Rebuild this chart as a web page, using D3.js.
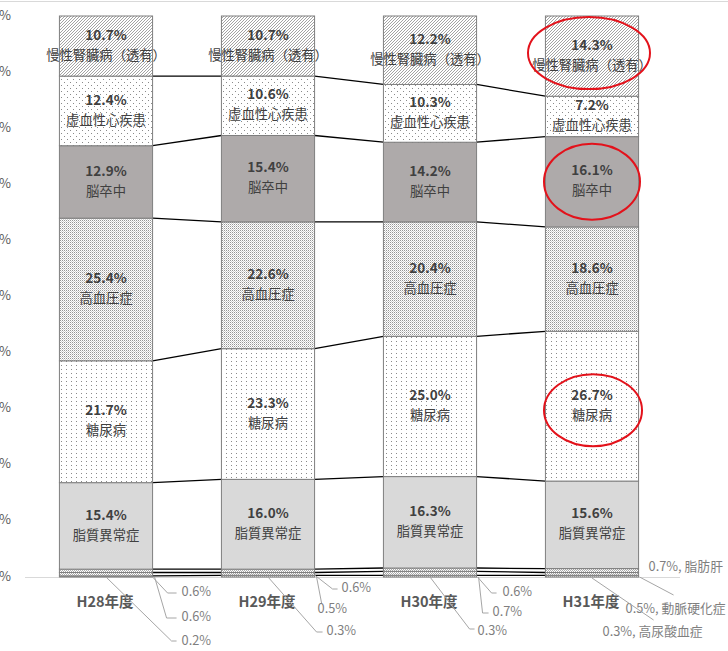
<!DOCTYPE html>
<html>
<head>
<meta charset="utf-8">
<script src="https://cdn.jsdelivr.net/npm/d3@7"></script>
<style>
  body { margin: 0; background: #fff; }
  svg { display: block; font-family: "Noto Sans CJK JP", "Noto Sans", sans-serif; }
</style>
</head>
<body>
<div id="chart"></div>
<script>
// data
const years = ["H28年度", "H29年度", "H30年度", "H31年度"];
const categories = ["高尿酸血症", "動脈硬化症", "脂肪肝", "脂質異常症", "糖尿病", "高血圧症", "脳卒中", "虚血性心疾患", "慢性腎臓病（透有）"];
const hyperuricemia = [0.2, 0.3, 0.3, 0.3];
const arteriosclerosis = [0.6, 0.5, 0.7, 0.5];
const fattyLiver = [0.6, 0.6, 0.6, 0.7];
const dyslipidemia = [15.4, 16.0, 16.3, 15.6];
const diabetes = [21.7, 23.3, 25.0, 26.7];
const hypertension = [25.4, 22.6, 20.4, 18.6];
const stroke = [12.9, 15.4, 14.2, 16.1];
const ischemic = [12.4, 10.6, 10.3, 7.2];
const ckd = [10.7, 10.7, 12.2, 14.3];
const yTicks = [0, 0.1, 0.2, 0.3, 0.4, 0.5, 0.6, 0.7, 0.8, 0.9, 1];
const highlighted = ["慢性腎臓病（透有）", "脳卒中", "糖尿病"]; // circled on H31

const seriesValues = [hyperuricemia, arteriosclerosis, fattyLiver, dyslipidemia, diabetes, hypertension, stroke, ischemic, ckd];
const rows = years.map((yr, i) => {
  const r = { year: yr };
  categories.forEach((c, j) => r[c] = seriesValues[j][i]);
  return r;
});

const width = 728, height = 651;
const svg = d3.select("#chart").append("svg")
  .attr("width", width)
  .attr("height", height);

const x = d3.scaleBand()
  .domain(years)
  .range([25, 673])
  .paddingInner(0.425)
  .paddingOuter(0.2125);

const y = d3.scaleLinear()
  .domain([0, 1])
  .range([577, 16]);

const stack = d3.stack()
  .keys(categories)
  .offset(d3.stackOffsetExpand);
const series = stack(rows);

// patterns
const defs = svg.append("defs");
function pat(id, w, h, draw) {
  const p = defs.append("pattern").attr("id", id)
    .attr("patternUnits", "userSpaceOnUse").attr("width", w).attr("height", h);
  p.append("rect").attr("width", w).attr("height", h).attr("fill", "#fff");
  draw(p);
}
pat("hatch", 3, 3, p => p.append("path")
  .attr("d", "M-0.75,0.75 l1.5,-1.5 M0,3 l3,-3 M2.25,3.75 l1.5,-1.5")
  .attr("stroke", "#8c8c8c").attr("stroke-width", 0.8));
pat("dotsSparse", 6, 6, p => {
  p.append("rect").attr("x", 1).attr("y", 1).attr("width", 1).attr("height", 1).attr("fill", "#8a8a8a");
  p.append("rect").attr("x", 4).attr("y", 4).attr("width", 1).attr("height", 1).attr("fill", "#8a8a8a");
});
pat("dotsMid", 5, 4, p => {
  p.append("rect").attr("x", 1).attr("y", 1).attr("width", 1).attr("height", 1).attr("fill", "#8a8a8a");
});
pat("stipple", 2, 2, p => {
  p.append("rect").attr("x", 0).attr("y", 0).attr("width", 1).attr("height", 1).attr("fill", "#959595");
  p.append("rect").attr("x", 1).attr("y", 1).attr("width", 1).attr("height", 1).attr("fill", "#d0d0d0");
});
pat("checker", 2, 2, p => {
  p.append("rect").attr("x", 0).attr("y", 0).attr("width", 1).attr("height", 1).attr("fill", "#aaa");
  p.append("rect").attr("x", 1).attr("y", 1).attr("width", 1).attr("height", 1).attr("fill", "#aaa");
});

const fills = {
  "高尿酸血症": "url(#checker)",
  "動脈硬化症": "url(#checker)",
  "脂肪肝": "url(#checker)",
  "脂質異常症": "#d9d9d9",
  "糖尿病": "url(#dotsMid)",
  "高血圧症": "url(#stipple)",
  "脳卒中": "#aeaaaa",
  "虚血性心疾患": "url(#dotsSparse)",
  "慢性腎臓病（透有）": "url(#hatch)"
};

// top border
svg.append("line")
  .attr("x1", 0).attr("x2", width).attr("y1", 1.5).attr("y2", 1.5)
  .attr("stroke", "#d9d9d9");

// y labels (clipped at the left edge like the original)
svg.append("g").selectAll("text")
  .data(yTicks)
  .join("text")
  .attr("x", 11)
  .attr("y", d => y(d))
  .attr("text-anchor", "end")
  .attr("dominant-baseline", "middle")
  .attr("font-size", 13)
  .attr("fill", "#595959")
  .text(d => d3.format(".0%")(d));

// baseline
svg.append("line")
  .attr("x1", 25).attr("x2", 680)
  .attr("y1", y(0) + 0.5).attr("y2", y(0) + 0.5)
  .attr("stroke", "#d9d9d9");

// series lines between bars (not for the 100% top)
const lineG = svg.append("g");
series.slice(0, -1).forEach(s => {
  for (let i = 0; i < years.length - 1; i++) {
    lineG.append("line")
      .attr("x1", x(years[i]) + x.bandwidth())
      .attr("x2", x(years[i + 1]))
      .attr("y1", y(s[i][1]))
      .attr("y2", y(s[i + 1][1]))
      .attr("stroke", "#000")
      .attr("stroke-width", 1.3);
  }
});

// bars
svg.append("g").selectAll("g")
  .data(series)
  .join("g")
  .attr("fill", d => fills[d.key])
  .selectAll("rect")
  .data(d => d)
  .join("rect")
  .attr("x", d => x(d.data.year))
  .attr("y", d => y(d[1]))
  .attr("width", x.bandwidth())
  .attr("height", d => y(d[0]) - y(d[1]))
  .attr("stroke", "#7f7f7f")
  .attr("stroke-width", 1);

// labels inside big segments
const big = series.slice(3);
const labG = svg.append("g").attr("text-anchor", "middle");
big.forEach(s => {
  s.forEach((d, i) => {
    const cx = x(d.data.year) + x.bandwidth() / 2;
    const cy = (y(d[0]) + y(d[1])) / 2;
    labG.append("text")
      .attr("x", cx).attr("y", cy - 10)
      .attr("dominant-baseline", "middle")
      .attr("font-size", 13.5).attr("font-weight", "bold")
      .attr("fill", "#404040")
      .text(d3.format(".1f")(d.data[s.key]) + "%");
    labG.append("text")
      .attr("x", cx).attr("y", cy + 10)
      .attr("dominant-baseline", "middle")
      .attr("font-size", 13.3)
      .attr("fill", "#404040")
      .text(s.key);
  });
});

// year labels
svg.append("g").selectAll("text")
  .data(years)
  .join("text")
  .attr("x", d => x(d) + x.bandwidth() / 2 - 1)
  .attr("y", 603)
  .attr("text-anchor", "middle")
  .attr("dominant-baseline", "middle")
  .attr("font-size", 14.5).attr("font-weight", "bold")
  .attr("fill", "#595959")
  .text(d => d);

// leader labels for the three small series
// offsets: start point (sx from bar right, or "c" = bar centre), elbow, end, text
const base = y(0);
const leaders = [
  // H28
  [{ s: [0, 0], e: [15, 16], h: 24, t: [29, 16] }, { s: [2, 0], e: [14, 41], h: 24, t: [29, 41] }, { s: ["c", 0], e: [19, 64], h: 24, t: [29, 65] }],
  // H29
  [{ s: [0, -2], e: [18, 12], h: 23, t: [27, 12] }, { s: [2, 0], e: [7, 26], h: null, t: [3, 33] }, { s: ["c", 0], e: [2, 55], h: 8, t: [12, 55] }],
  // H30
  [{ s: [1, 0], e: [15, 16], h: 20, t: [26, 16] }, { s: [2, 0], e: [6, 36], h: 12, t: [16, 36] }, { s: ["c", 0], e: [-7, 52], h: -2, t: [1, 55] }],
  // H31
  [{ s: null, t: [10, -9] }, { s: [1, 0], e: [35, 18], h: null, t: [-13, 33] }, { s: ["c", 1], e: [15, 43], h: null, t: [-36, 56] }]
];
const smallKeys = [categories[2], categories[1], categories[0]];
const leadG = svg.append("g");
years.forEach((yr, i) => {
  const xr = x(yr) + x.bandwidth();
  const xc = x(yr) + x.bandwidth() / 2;
  smallKeys.forEach((k, j) => {
    const L = leaders[i][j];
    const v = d3.format(".1f")(rows[i][k]) + "%";
    if (L.s) {
      const sx = L.s[0] === "c" ? xc : xr + L.s[0];
      const pts = [[sx, base + L.s[1]], [xr + L.e[0], base + L.e[1]]];
      if (L.h !== null) pts.push([xr + L.h, base + L.e[1]]);
      leadG.append("path")
        .attr("d", d3.line()(pts))
        .attr("fill", "none")
        .attr("stroke", "#a6a6a6")
        .attr("stroke-width", 1);
    }
    leadG.append("text")
      .attr("x", xr + L.t[0])
      .attr("y", base + L.t[1])
      .attr("dominant-baseline", "middle")
      .attr("font-size", 12.8)
      .attr("fill", "#7f7f7f")
      .text(i === years.length - 1 ? `${v}, ${k}` : v);
  });
});

// red circles on the last year
const lastYear = years[years.length - 1];
const ellipseSize = { "慢性腎臓病（透有）": [61, 36, -3, -3], "脳卒中": [48, 38, 0, 0], "糖尿病": [49, 36, 1, 4] };
highlighted.forEach(k => {
  const s = series.find(d => d.key === k);
  const d = s[years.length - 1];
  const [rx, ry, dx, dy] = ellipseSize[k];
  svg.append("ellipse")
    .attr("cx", x(lastYear) + x.bandwidth() / 2 + dx)
    .attr("cy", (y(d[0]) + y(d[1])) / 2 + dy)
    .attr("rx", rx).attr("ry", ry)
    .attr("fill", "none")
    .attr("stroke", "#e3121b")
    .attr("stroke-width", 2);
});
</script>
</body>
</html>
